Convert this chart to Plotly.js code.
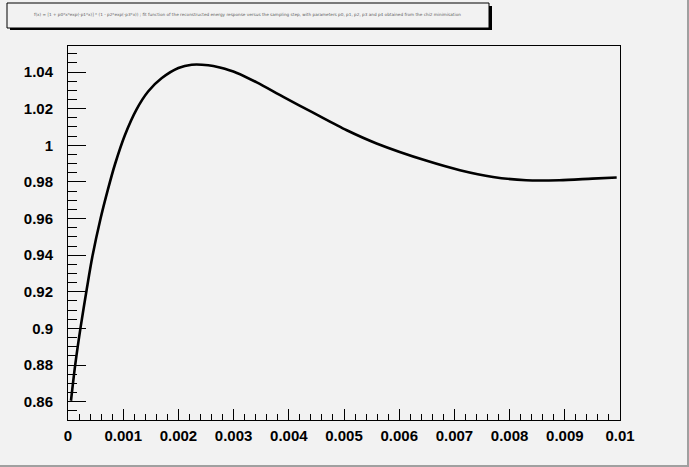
<!DOCTYPE html>
<html>
<head>
<meta charset="utf-8">
<script src="https://cdn.plot.ly/plotly-3.0.1.min.js"></script>
<style>
html,body{margin:0;padding:0;background:#f2f2f2;}
#chart{width:689px;height:467px;}
</style>
</head>
<body>
<div id="chart"></div>
<script>
// Data
const xValues = [0.000054, 0.00013, 0.00023, 0.00034, 0.00044, 0.00059, 0.00072, 0.00085, 0.00103, 0.00124, 0.001455, 0.0017, 0.002, 0.00224, 0.00254, 0.00275, 0.00306, 0.00342, 0.0039, 0.00444, 0.00505, 0.00559, 0.0065, 0.0071, 0.0077, 0.0083, 0.0089, 0.0095, 0.00994];
const yValues = [0.8605, 0.880, 0.901, 0.9215, 0.939, 0.960, 0.9755, 0.9895, 1.0055, 1.0195, 1.0295, 1.0367, 1.0422, 1.0440, 1.0437, 1.0424, 1.0395, 1.0343, 1.0264, 1.0178, 1.0082, 1.0010, 0.9915, 0.9864, 0.9827, 0.9809, 0.9809, 0.9818, 0.9824];
const xTickVals = [0, 0.001, 0.002, 0.003, 0.004, 0.005, 0.006, 0.007, 0.008, 0.009, 0.01];
const xTickText = ["0", "0.001", "0.002", "0.003", "0.004", "0.005", "0.006", "0.007", "0.008", "0.009", "0.01"];
const yTickVals = [0.86, 0.88, 0.90, 0.92, 0.94, 0.96, 0.98, 1.00, 1.02, 1.04];
const yTickText = ["0.86", "0.88", "0.9", "0.92", "0.94", "0.96", "0.98", "1", "1.02", "1.04"];
const titleText = "f(x) = [1 + p0*x*exp(-p1*x)] * (1 - p2*exp(-p3*x)) ; fit function of the reconstructed energy response versus the sampling step, with parameters p0, p1, p2, p3 and p4 obtained from the chi2 minimisation";

const W = 689, H = 467, ML = 68, MR = 69, MT = 46, MB = 47;
const PW = W - ML - MR, PH = H - MT - MB;
const px = v => (v - ML) / PW;
const py = v => 1 - (v - MT) / PH;

const tickFont = {family: "Liberation Sans, Arial, sans-serif", size: 15, color: "#000", weight: "bold"};

const trace = {
  x: xValues, y: yValues, type: "scatter", mode: "lines",
  line: {color: "#000", width: 2.6, shape: "spline", smoothing: 0.8},
  hoverinfo: "skip"
};

const layout = {
  width: W, height: H,
  margin: {l: ML, r: MR, t: MT, b: MB, pad: 0},
  paper_bgcolor: "#f2f2f2", plot_bgcolor: "#f2f2f2",
  showlegend: false,
  font: {family: "Liberation Sans, Arial, sans-serif", size: 14, color: "#000"},
  xaxis: {
    range: [0, 0.01], showgrid: false, zeroline: false,
    showline: true, linecolor: "#000", linewidth: 1, mirror: true,
    tickmode: "array", tickvals: xTickVals, ticktext: xTickText,
    ticks: "inside", ticklen: 11, tickcolor: "#000", tickwidth: 1,
    minor: {dtick: 0.0002, tick0: 0, ticks: "inside", ticklen: 6, tickcolor: "#000", showgrid: false},
    tickfont: tickFont,
    ticklabelstandoff: 2
  },
  yaxis: {
    range: [0.85, 1.0542], showgrid: false, zeroline: false,
    showline: true, linecolor: "#000", linewidth: 1, mirror: true,
    tickmode: "array", tickvals: yTickVals, ticktext: yTickText,
    ticks: "inside", ticklen: 18, tickcolor: "#000", tickwidth: 1,
    minor: {dtick: 0.005, tick0: 0.85, ticks: "inside", ticklen: 9, tickcolor: "#000", showgrid: false},
    tickfont: tickFont,
    ticklabelstandoff: 11
  },
  shapes: [
    // title box shadow
    {type: "rect", xref: "paper", yref: "paper", x0: px(10), x1: px(492), y0: py(6), y1: py(30),
     fillcolor: "#000", line: {width: 0}, layer: "above"},
    // title box
    {type: "rect", xref: "paper", yref: "paper", x0: px(7), x1: px(489), y0: py(3), y1: py(28),
     fillcolor: "#f2f2f2", line: {color: "#000", width: 1}, layer: "above"},
    // canvas bevel right/bottom
    {type: "rect", xref: "paper", yref: "paper", x0: px(687), x1: px(689), y0: py(0), y1: py(467),
     fillcolor: "#a0a0a0", line: {width: 0}, layer: "above"},
    {type: "rect", xref: "paper", yref: "paper", x0: px(0), x1: px(689), y0: py(465), y1: py(467),
     fillcolor: "#a0a0a0", line: {width: 0}, layer: "above"}
  ],
  annotations: [
    {xref: "paper", yref: "paper", x: px(247), y: py(15), xanchor: "center", yanchor: "middle",
     text: titleText, showarrow: false,
     font: {family: "DejaVu Sans", size: 4.2, color: "#606060"}}
  ]
};

Plotly.newPlot("chart", [trace], layout, {staticPlot: true, displayModeBar: false});
</script>
</body>
</html>
